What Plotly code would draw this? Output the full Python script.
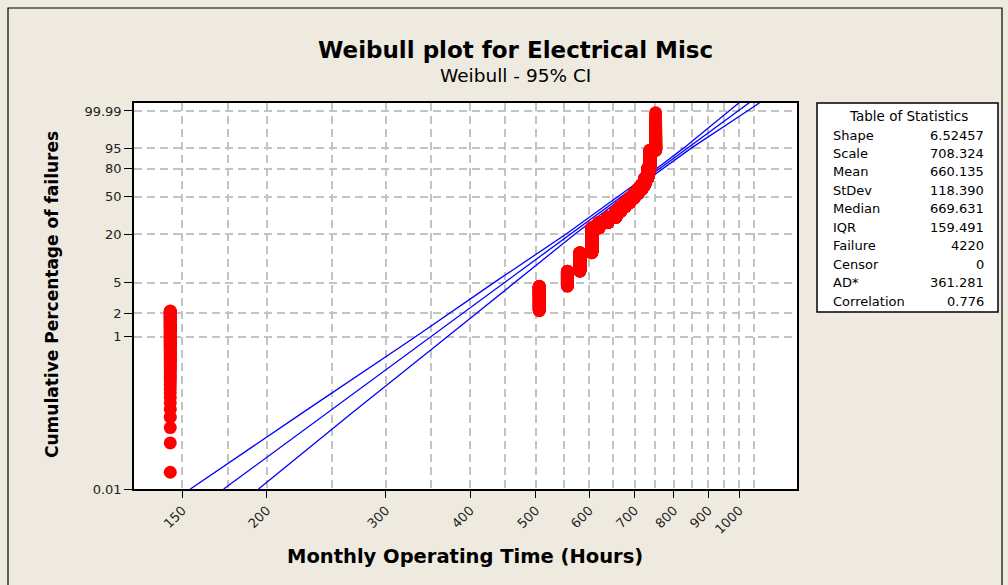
import numpy as np
import plotly.graph_objects as go

# ---------------- data ----------------
# distinct failure times (hours) and number of failures at each time
fail_times = [144, 506, 557, 581, 605, 620, 639, 657, 668, 678, 689, 699, 708, 718, 725, 732, 738, 752]
fail_counts = [91, 99, 105, 207, 490, 147, 169, 211, 169, 169, 190, 190, 211, 211, 295, 422, 591, 253]

# fitted Weibull line (percent, hours)
fit_pct = [0.01, 99.9999]
fit_time = [172.7, 1059.6]

# 95% confidence bounds (percent, hours)
ci_pct = [0.01, 0.1, 1, 5, 20, 50, 80, 95, 99.99, 99.9999]
ci_lo_time = [154.2, 225.8, 332.4, 433.6, 554.6, 663.0, 754.2, 827.2, 964.3, 1021.1]
ci_hi_time = [194.5, 267.6, 370.3, 466.0, 571.5, 676.3, 769.5, 849.0, 1028.0, 1099.6]

# axis ticks
x_ticks = [150, 200, 300, 400, 500, 600, 700, 800, 900, 1000]
x_minor = [175, 250, 350, 450, 550, 650, 750, 850, 950, 1050]
y_tick_pct = [0.01, 1, 2, 5, 20, 50, 80, 95, 99.99]
y_tick_text = ["0.01", "1", "2", "5", "20", "50", "80", "95", "99.99"]

# table of statistics
stat_names = ["Shape", "Scale", "Mean", "StDev", "Median", "IQR", "Failure", "Censor", "AD*", "Correlation"]
stat_values = ["6.52457", "708.324", "660.135", "118.390", "669.631", "159.491", "4220", "0", "361.281", "0.776"]


def wy(pct):
    """Weibull probability-paper coordinate."""
    p = np.asarray(pct, dtype=float) / 100.0
    return np.log(-np.log(1.0 - p))


# plotting positions (median ranks)
n = int(sum(fail_counts))
ranks = np.arange(1, n + 1)
pts_pct = (ranks - 0.3) / (n + 0.4) * 100.0
pts_time = np.repeat(fail_times, fail_counts)

fig = go.Figure()

line_style = dict(color="#0000FF", width=1.3)
fig.add_trace(go.Scatter(x=ci_lo_time, y=wy(ci_pct), mode="lines", line=line_style, showlegend=False))
fig.add_trace(go.Scatter(x=fit_time, y=wy(fit_pct), mode="lines", line=line_style, showlegend=False))
fig.add_trace(go.Scatter(x=ci_hi_time, y=wy(ci_pct), mode="lines", line=line_style, showlegend=False))
fig.add_trace(go.Scatter(x=pts_time, y=wy(pts_pct), mode="markers",
                         marker=dict(color="#FF0000", size=13, line=dict(width=0)),
                         showlegend=False))

W, H = 1008, 585
L, R, T, B = 134, 211, 103, 96
PW, PH = W - L - R, H - T - B


def px(xp):
    return (xp - L) / PW


def py(yp):
    return (H - B - yp) / PH


grid = dict(showgrid=True, gridcolor="#C3C3C3", gridwidth=1.5, griddash="8px,5px")

fig.update_layout(
    width=W, height=H,
    margin=dict(l=L, r=R, t=T, b=B),
    paper_bgcolor="#EEEAE0",
    plot_bgcolor="#FFFFFF",
    font=dict(family="DejaVu Sans", size=13, color="#000000"),
    xaxis=dict(
        type="log", range=[2.1047, 3.0854],
        tickmode="array", tickvals=x_ticks, ticktext=[str(v) for v in x_ticks],
        tickangle=-45, ticks="outside", ticklen=7, tickwidth=1.2, tickcolor="#000000",
        showline=True, linecolor="#000000", linewidth=1.5, mirror=True,
        zeroline=False,
        minor=dict(tickmode="array", tickvals=x_minor, ticks="", showgrid=True,
                   gridcolor="#C3C3C3", gridwidth=1.5, griddash="8px,5px"),
        tickfont=dict(size=13, color="#222222"),
        **grid,
    ),
    yaxis=dict(
        range=[float(wy(0.01)), 2.462],
        tickmode="array", tickvals=list(wy(y_tick_pct)), ticktext=y_tick_text,
        ticks="outside", ticklen=8, tickwidth=1.2, tickcolor="#000000",
        showline=True, linecolor="#000000", linewidth=1.5, mirror=True,
        zeroline=False,
        tickfont=dict(size=13, color="#222222"),
        **grid,
    ),
)

shapes = [
    # outer frame
    dict(type="rect", xref="paper", yref="paper", x0=px(8), x1=px(1002), y0=py(620), y1=py(8),
         line=dict(color="#000000", width=1.2), fillcolor="rgba(0,0,0,0)", layer="below"),
    # statistics box
    dict(type="rect", xref="paper", yref="paper", x0=px(817), x1=px(998), y0=py(312), y1=py(103),
         line=dict(color="#000000", width=1.5), fillcolor="#FFFFFF"),
]
fig.update_layout(shapes=shapes)

ann = [
    dict(text="<b>Weibull plot for Electrical Misc</b>", x=px(515), y=py(50),
         font=dict(size=23, family="DejaVu Sans")),
    dict(text="Weibull - 95% CI", x=px(515), y=py(76), font=dict(size=18.5, family="DejaVu Sans")),
    dict(text="<b>Cumulative Percentage of failures</b>", x=px(52), y=py(295), textangle=-90,
         font=dict(size=17, family="DejaVu Sans")),
    dict(text="<b>Monthly Operating Time (Hours)</b>", x=px(465), y=py(556),
         font=dict(size=19.5, family="DejaVu Sans")),
    dict(text="Table of Statistics", x=px(908), y=py(116), font=dict(size=13.5, family="DejaVu Sans")),
]
for i, (nm, val) in enumerate(zip(stat_names, stat_values)):
    yy = 135 + i * 18.45
    ann.append(dict(text=nm, x=px(831), y=py(yy), xanchor="left", font=dict(size=13)))
    ann.append(dict(text=val, x=px(986), y=py(yy), xanchor="right", font=dict(size=13)))

for a in ann:
    a.setdefault("xref", "paper")
    a.setdefault("yref", "paper")
    a.setdefault("showarrow", False)
    a.setdefault("xanchor", "center")
    a.setdefault("yanchor", "middle")
fig.update_layout(annotations=ann)

fig.write_html(
    "out.html",
    config={"displayModeBar": False},
    post_script="document.body.style.margin='0';document.body.style.background='#EEEAE0';",
)
